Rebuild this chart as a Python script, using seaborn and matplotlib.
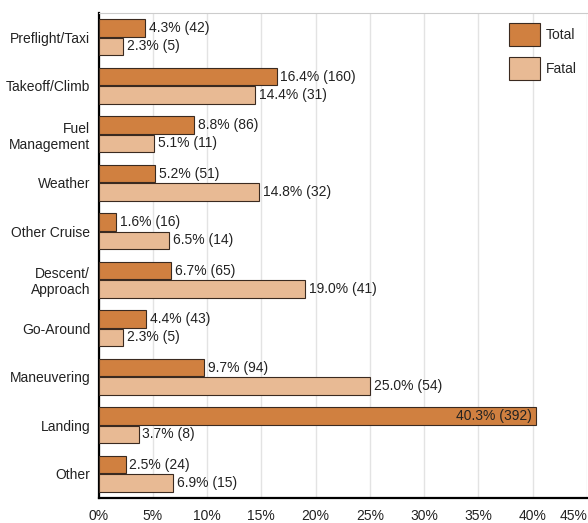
import matplotlib
matplotlib.use("Agg")
import matplotlib.pyplot as plt
import seaborn as sns
import pandas as pd
from matplotlib.patches import Patch

categories = ["Preflight/Taxi", "Takeoff/Climb", "Fuel\nManagement", "Weather",
              "Other Cruise", "Descent/\nApproach", "Go-Around", "Maneuvering",
              "Landing", "Other"]
total_pct = [4.3, 16.4, 8.8, 5.2, 1.6, 6.7, 4.4, 9.7, 40.3, 2.5]
total_n = [42, 160, 86, 51, 16, 65, 43, 94, 392, 24]
fatal_pct = [2.3, 14.4, 5.1, 14.8, 6.5, 19.0, 2.3, 25.0, 3.7, 6.9]
fatal_n = [5, 31, 11, 32, 14, 41, 5, 54, 8, 15]
series = ["Total", "Fatal"]
xticks = [0, 5, 10, 15, 20, 25, 30, 35, 40, 45]
xtick_labels = ["0%", "5%", "10%", "15%", "20%", "25%", "30%", "35%", "40%", "45%"]

colors = {"Total": "#D08040", "Fatal": "#E8BA94"}

rows = []
for c, tp, tn, fp, fn in zip(categories, total_pct, total_n, fatal_pct, fatal_n):
    rows.append({"cat": c, "series": "Total", "pct": tp, "n": tn})
    rows.append({"cat": c, "series": "Fatal", "pct": fp, "n": fn})
df = pd.DataFrame(rows)

sns.set_theme(style="white")
plt.rcParams["font.family"] = ["Liberation Sans", "DejaVu Sans"]

fig = plt.figure(figsize=(5.88, 5.23), dpi=100)
ax = fig.add_axes([98.5 / 588, 1 - 498 / 523, (587 - 98.5) / 588, (498 - 13) / 523])

sns.barplot(data=df, y="cat", x="pct", hue="series", order=categories,
            hue_order=series, palette=colors, saturation=1, orient="h",
            width=0.76, gap=0.07, edgecolor="#3a2a20", linewidth=0.8,
            legend=False, ax=ax, zorder=3)

ax.set_xlim(0, 45)
ax.set_xticks(xticks)
ax.set_xticklabels(xtick_labels, fontsize=10, color="#222222")
ax.get_xticklabels()[-1].set_ha("right")
ax.get_xticklabels()[-1].set_x(45)
ax.tick_params(axis="x", length=0, pad=8)
ax.tick_params(axis="y", length=0, pad=6, labelsize=10, labelcolor="#222222")
ax.set_xlabel("")
ax.set_ylabel("")
ax.grid(axis="x", color="#e3e3e3", linewidth=1, zorder=0)
ax.set_axisbelow(True)

for s in ["left", "bottom"]:
    ax.spines[s].set_color("black")
    ax.spines[s].set_linewidth(1.6)
ax.spines["top"].set_color("#cccccc")
ax.spines["top"].set_linewidth(0.8)
ax.spines["right"].set_visible(False)

# value labels
for container, s in zip(ax.containers, series):
    sub = df[df["series"] == s].set_index("cat").loc[categories]
    for bar, p, n in zip(container, sub["pct"], sub["n"]):
        txt = f"{p:.1f}% ({n})"
        y = bar.get_y() + bar.get_height() / 2
        if p > 35:
            ax.text(p - 0.35, y, txt, ha="right", va="center", fontsize=10,
                    color="#222222", zorder=5)
        else:
            ax.text(p + 0.35, y, txt, ha="left", va="center", fontsize=10,
                    color="#222222", zorder=5)

handles = [Patch(facecolor=colors[s], edgecolor="#3a2a20", linewidth=0.8, label=s)
           for s in series]
ax.legend(handles=handles, loc="upper left", bbox_to_anchor=(509 / 588, 1 - 23 / 523),
          bbox_transform=fig.transFigure, frameon=False, fontsize=10,
          handlelength=2.2, handleheight=2.2, labelspacing=0.75, handletextpad=0.45,
          borderpad=0, borderaxespad=0)

fig.savefig("out.png", dpi=100)
